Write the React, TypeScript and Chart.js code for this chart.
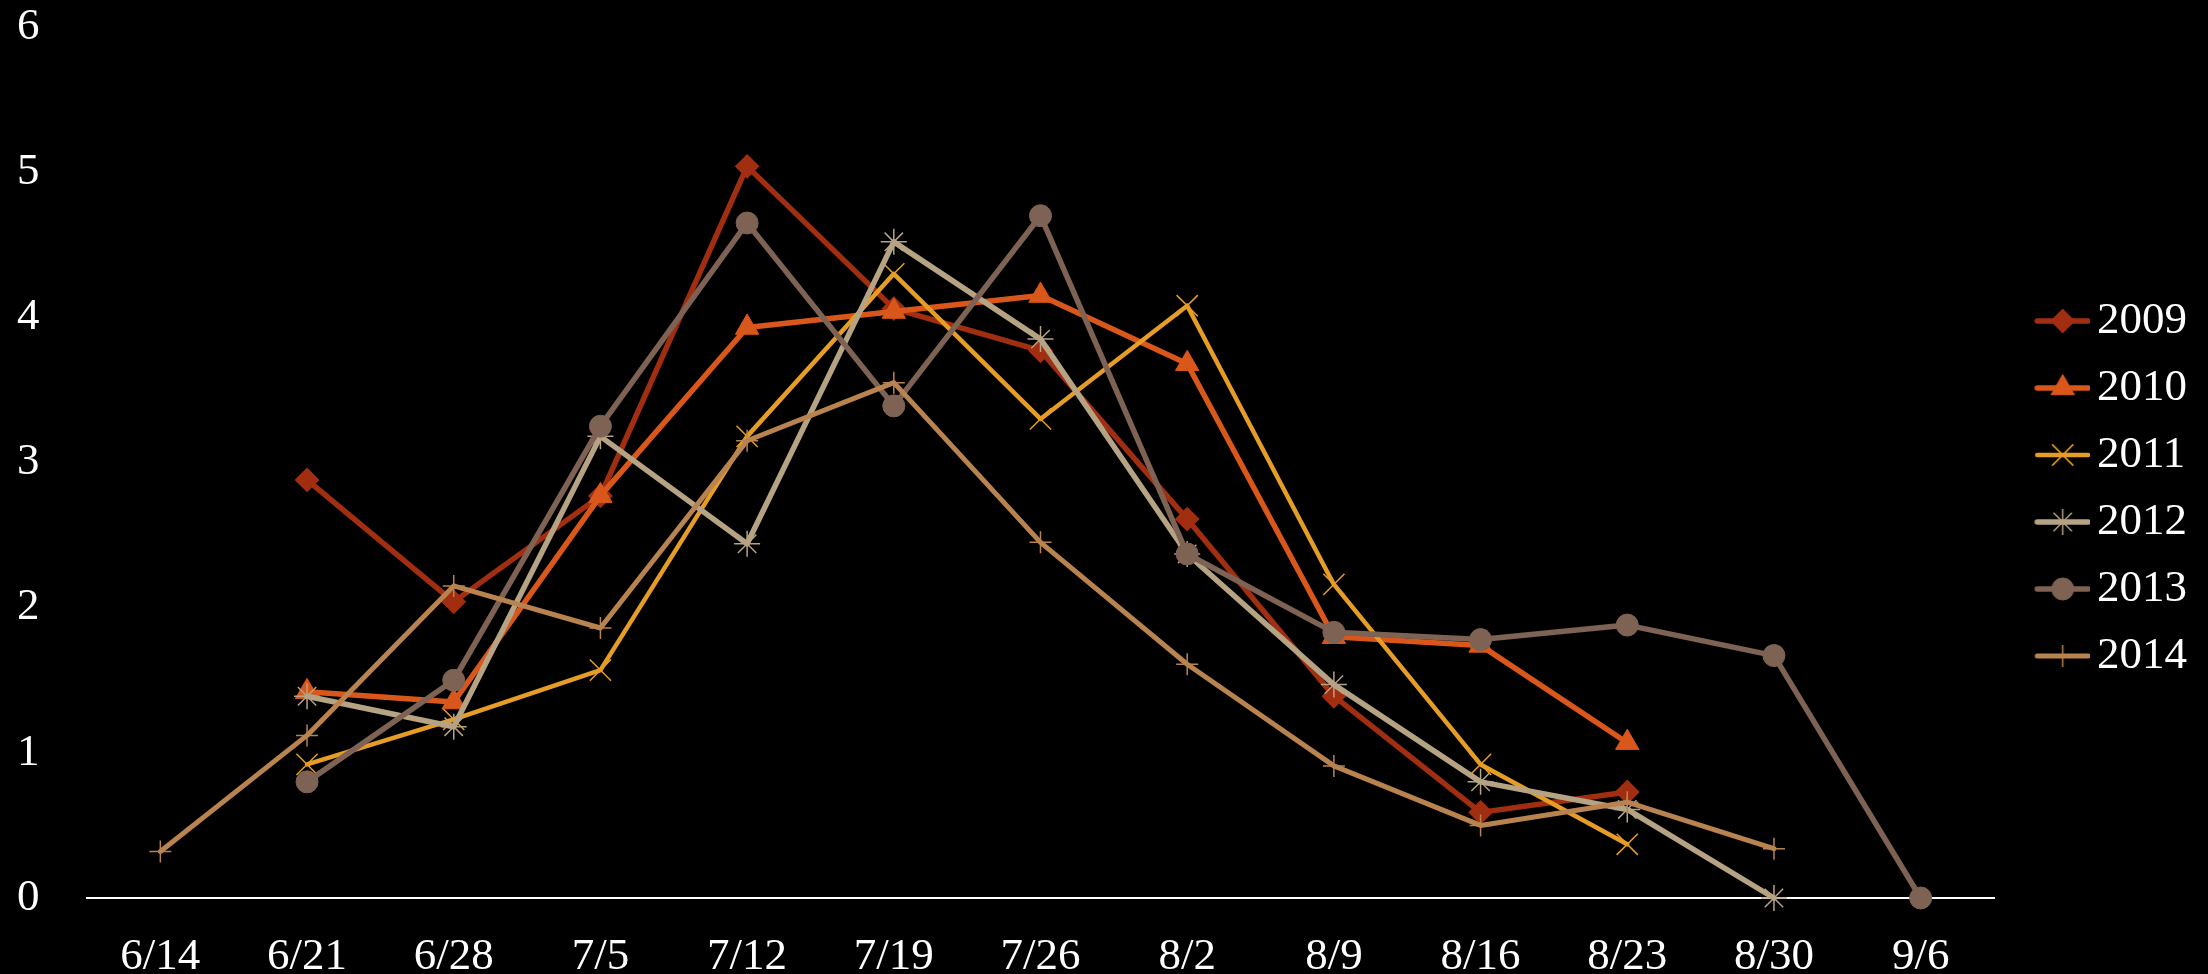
import React, { useEffect, useRef } from 'react';
import { Chart, registerables } from 'chart.js';

Chart.register(...registerables);

const categories = ['6/14', '6/21', '6/28', '7/5', '7/12', '7/19', '7/26', '8/2', '8/9', '8/16', '8/23', '8/30', '9/6'];
const seriesNames = ['2009', '2010', '2011', '2012', '2013', '2014'];

const s2009 = [null, 2.88, 2.04, 2.77, 5.04, 4.06, 3.77, 2.61, 1.39, 0.59, 0.73, null, null];
const s2010 = [null, 1.42, 1.35, 2.77, 3.93, 4.04, 4.15, 3.68, 1.8, 1.74, 1.07, null, null];
const s2011 = [null, 0.92, 1.23, 1.57, 3.18, 4.3, 3.3, 4.08, 2.16, 0.92, 0.37, null, null];
const s2012 = [null, 1.39, 1.18, 3.18, 2.44, 4.52, 3.85, 2.37, 1.47, 0.8, 0.61, 0, null];
const s2013 = [null, 0.8, 1.5, 3.25, 4.65, 3.39, 4.7, 2.37, 1.83, 1.78, 1.88, 1.67, 0];
const s2014 = [0.32, 1.12, 2.15, 1.86, 3.15, 3.55, 2.45, 1.61, 0.91, 0.5, 0.66, 0.34, null];

const seriesValues = [s2009, s2010, s2011, s2012, s2013, s2014];

const colors = ['#A22E11', '#D9571A', '#E59D25', '#B5A384', '#7E6254', '#B8834F'];
const pointStyles = ['rectRot', 'triangle', 'crossRot', 'star', 'circle', 'cross'];
const pointRadii = [11, 13.5, 15, 13, 11, 11];
const pointBorders = [2, 1, 1.5, 1.5, 1, 1.5];
const lineWidths = [5.5, 5.5, 4.5, 5.5, 5.5, 5];

const FONT = "'Liberation Serif', 'Times New Roman', serif";

function legendImage(color: string, style: string, r: number, bw: number, lw: number) {
  const c = document.createElement('canvas');
  c.width = 90;
  c.height = 34;
  const ctx = c.getContext('2d') as CanvasRenderingContext2D;
  ctx.strokeStyle = color;
  ctx.fillStyle = color;
  ctx.lineCap = 'round';
  ctx.lineWidth = lw;
  ctx.beginPath();
  ctx.moveTo(37, 17);
  ctx.lineTo(88, 17);
  ctx.stroke();
  const cx = 62.5;
  const cy = 17;
  ctx.lineCap = 'butt';
  ctx.lineWidth = bw;
  const d = r * Math.SQRT1_2;
  ctx.beginPath();
  if (style === 'rectRot') {
    ctx.moveTo(cx - r, cy);
    ctx.lineTo(cx, cy - r);
    ctx.lineTo(cx + r, cy);
    ctx.lineTo(cx, cy + r);
    ctx.closePath();
    ctx.fill();
    ctx.stroke();
  } else if (style === 'triangle') {
    for (let k = 0; k < 3; k++) {
      const a = (k * 2 * Math.PI) / 3;
      const px = cx + Math.sin(a) * r;
      const py = cy - Math.cos(a) * r;
      if (k === 0) ctx.moveTo(px, py);
      else ctx.lineTo(px, py);
    }
    ctx.closePath();
    ctx.fill();
    ctx.stroke();
  } else if (style === 'circle') {
    ctx.arc(cx, cy, r, 0, Math.PI * 2);
    ctx.fill();
    ctx.stroke();
  } else {
    if (style === 'crossRot' || style === 'star') {
      ctx.moveTo(cx - d, cy - d);
      ctx.lineTo(cx + d, cy + d);
      ctx.moveTo(cx - d, cy + d);
      ctx.lineTo(cx + d, cy - d);
    }
    if (style === 'cross' || style === 'star') {
      ctx.moveTo(cx, cy - r);
      ctx.lineTo(cx, cy + r);
      ctx.moveTo(cx - r, cy);
      ctx.lineTo(cx + r, cy);
    }
    ctx.stroke();
  }
  return c;
}

export default function App() {
  const ref = useRef<HTMLCanvasElement | null>(null);

  useEffect(() => {
    document.body.style.margin = '0';
    document.body.style.background = '#000';
    const canvas = ref.current;
    if (!canvas) return;
    const images = seriesNames.map((_, i) =>
      legendImage(colors[i], pointStyles[i], pointRadii[i], pointBorders[i], lineWidths[i])
    );
    const chart = new Chart(canvas, {
      type: 'line',
      data: {
        labels: categories,
        datasets: seriesValues.map((vals, i) => ({
          label: seriesNames[i],
          data: vals,
          borderColor: colors[i],
          backgroundColor: colors[i],
          borderWidth: lineWidths[i],
          borderJoinStyle: 'round',
          borderCapStyle: 'round',
          pointStyle: pointStyles[i],
          pointRadius: pointRadii[i],
          pointHoverRadius: pointRadii[i],
          pointBorderWidth: pointBorders[i],
          pointBackgroundColor: colors[i],
          pointBorderColor: colors[i],
          tension: 0,
          fill: false,
          clip: false,
          spanGaps: false,
          order: seriesNames.length - 1 - i,
        })) as any,
      },
      options: {
        responsive: false,
        animation: false,
        devicePixelRatio: 1,
        layout: { padding: { left: 17, right: 11, top: 0, bottom: -3 } },
        plugins: {
          tooltip: { enabled: false },
          legend: {
            position: 'right',
            align: 'center',
            labels: {
              usePointStyle: true,
              pointStyleWidth: 58.5,
              boxHeight: 45,
              padding: 22,
              color: '#FFFFFF',
              font: { family: FONT, size: 45 },
              generateLabels: (ch: any) => {
                const base = (Chart.defaults.plugins.legend.labels as any).generateLabels(ch);
                return base
                  .sort((a: any, b: any) => a.datasetIndex - b.datasetIndex)
                  .map((item: any) => ({
                    ...item,
                    pointStyle: images[item.datasetIndex],
                    fontColor: '#FFFFFF',
                  }));
              },
            },
          },
        },
        scales: {
          x: {
            offset: true,
            grid: { display: false, drawTicks: false },
            border: { display: true, color: '#FFFFFF', width: 2 },
            ticks: {
              color: '#FFFFFF',
              font: { family: FONT, size: 45, lineHeight: 1 },
              padding: 37,
              autoSkip: false,
              maxRotation: 0,
            },
            afterFit: (scale: any) => {
              scale.height = 79;
            },
          },
          y: {
            min: 0,
            max: 6,
            grid: { display: false, drawTicks: false },
            border: { display: false },
            ticks: {
              stepSize: 1,
              color: '#FFFFFF',
              font: { family: FONT, size: 45 },
              padding: 0,
              crossAlign: 'far',
            },
            afterFit: (scale: any) => {
              scale.width = 70;
            },
          },
        },
      } as any,
    });
    return () => chart.destroy();
  }, []);

  return (
    <div style={{ position: 'fixed', left: 0, top: 0, width: 2208, height: 974, background: '#000' }}>
      <canvas ref={ref} width={2208} height={974} style={{ display: 'block', width: 2208, height: 974 }} />
    </div>
  );
}
